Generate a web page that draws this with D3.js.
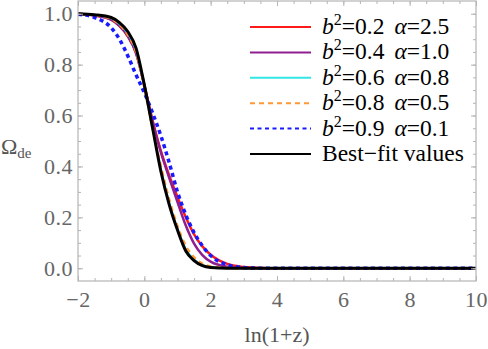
<!DOCTYPE html>
<html>
<head>
    <meta charset="utf-8">
    <title>Omega_de vs ln(1+z)</title>
    <script type="text/javascript" src="https://cdn.jsdelivr.net/npm/d3@7/dist/d3.min.js"></script>
    <style>
        body { margin: 0; background: #fff; }
    </style>
</head>
<body>
<script type="text/javascript">
var lnz = [-2, -1.5, -1, -0.75, -0.5, -0.25, 0, 0.25, 0.5, 0.75, 1, 1.25, 1.5, 1.75, 2, 2.5, 3, 3.5, 4, 6, 8, 10];

var omegaRed    = [1.0, 0.993, 0.977, 0.952, 0.912, 0.845, 0.72, 0.58, 0.46, 0.365, 0.28, 0.2, 0.133, 0.086, 0.053, 0.017, 0.005, 0.001, 0, 0, 0, 0];
var omegaPurple = [1.0, 0.993, 0.977, 0.952, 0.912, 0.845, 0.72, 0.575, 0.455, 0.355, 0.26, 0.168, 0.097, 0.052, 0.026, 0.006, 0.001, 0, 0, 0, 0, 0];
var omegaCyan   = [1.0, 0.995, 0.982, 0.96, 0.922, 0.855, 0.715, 0.55, 0.39, 0.258, 0.155, 0.076, 0.035, 0.013, 0.004, 0.001, 0, 0, 0, 0, 0, 0];
var omegaOrange = [1.0, 0.994, 0.98, 0.957, 0.918, 0.85, 0.71, 0.55, 0.4, 0.27, 0.165, 0.088, 0.043, 0.018, 0.007, 0.001, 0, 0, 0, 0, 0, 0];
var omegaBlue   = [0.998, 0.985, 0.945, 0.9, 0.835, 0.76, 0.69, 0.61, 0.52, 0.415, 0.3, 0.21, 0.14, 0.088, 0.05, 0.014, 0.003, 0.0005, 0, 0, 0, 0];
var omegaBest   = [1.0, 0.996, 0.985, 0.965, 0.93, 0.865, 0.72, 0.55, 0.38, 0.25, 0.15, 0.068, 0.03, 0.01, 0.003, 0, 0, 0, 0, 0, 0, 0];

var b2Values    = ["0.2", "0.4", "0.6", "0.8", "0.9"];
var alphaValues = ["2.5", "1.0", "0.8", "0.5", "0.1"];

var xTicks = [-2, 0, 2, 4, 6, 8, 10];
var yTicks = [0, 0.2, 0.4, 0.6, 0.8, 1.0];

var width = 488, height = 349;
var margins = {top: 1, left: 78, right: 12, bottom: 68};
var serif = "'Liberation Serif', 'Times New Roman', Times, 'DejaVu Serif', serif";

var series = [
    {values: omegaRed,    color: "#ff1a1a", width: 2.5, dash: null},
    {values: omegaPurple, color: "#8f1f8f", width: 2.5, dash: null},
    {values: omegaCyan,   color: "#33e6e6", width: 2,   dash: null},
    {values: omegaOrange, color: "#ff9933", width: 2.5, dash: "5,4"},
    {values: omegaBlue,   color: "#1a1aff", width: 3.5, dash: "4,3.5"},
    {values: omegaBest,   color: "#000000", width: 3,   dash: null}
];

var x = d3.scaleLinear().domain([-2, 10]).range([margins.left, width - margins.right]);
var y = d3.scaleLinear().domain([-0.05, 1.05]).range([height - margins.bottom, margins.top]);

var svg = d3.select("body").append("svg")
        .attr("width", width)
        .attr("height", height);

var frameColor = "#b5b5b5", labelColor = "#666";

function renderAxes() {
    var g = svg.append("g").attr("class", "axes");
    var xMinor = d3.range(-2, 10.01, 0.5);
    var yMinor = d3.range(0, 1.001, 0.05);

    // minor ticks, all four sides
    g.append("g").attr("transform", "translate(0," + y(-0.05) + ")")
            .call(d3.axisBottom(x).tickValues(xMinor).tickSize(-3).tickFormat(""));
    g.append("g").attr("transform", "translate(0," + y(1.05) + ")")
            .call(d3.axisTop(x).tickValues(xMinor).tickSize(-3).tickFormat(""));
    g.append("g").attr("transform", "translate(" + x(-2) + ",0)")
            .call(d3.axisLeft(y).tickValues(yMinor).tickSize(-3).tickFormat(""));
    g.append("g").attr("transform", "translate(" + x(10) + ",0)")
            .call(d3.axisRight(y).tickValues(yMinor).tickSize(-3).tickFormat(""));

    // major ticks
    g.append("g").attr("class", "x axis").attr("transform", "translate(0," + y(-0.05) + ")")
            .call(d3.axisBottom(x).tickValues(xTicks).tickSize(-5).tickPadding(10).tickSizeOuter(0));
    g.append("g").attr("transform", "translate(0," + y(1.05) + ")")
            .call(d3.axisTop(x).tickValues(xTicks).tickSize(-5).tickFormat(""));
    g.append("g").attr("class", "y axis").attr("transform", "translate(" + x(-2) + ",0)")
            .call(d3.axisLeft(y).tickValues(yTicks).tickSize(-5).tickPadding(5).tickFormat(d3.format(".1f")).tickSizeOuter(0));
    g.append("g").attr("transform", "translate(" + x(10) + ",0)")
            .call(d3.axisRight(y).tickValues(yTicks).tickSize(-5).tickFormat(""));

    g.selectAll(".domain").remove();
    g.selectAll(".tick line").attr("stroke", frameColor);
    g.selectAll(".tick text")
            .attr("fill", labelColor)
            .style("font-size", "22px")
            .style("letter-spacing", "0.5px");

    svg.append("rect")
            .attr("x", x(-2))
            .attr("y", y(1.05))
            .attr("width", x(10) - x(-2))
            .attr("height", y(-0.05) - y(1.05))
            .attr("fill", "none")
            .attr("stroke", frameColor)
            .attr("stroke-width", 1.2);

    svg.append("text")
            .attr("x", x(4))
            .attr("y", 342)
            .attr("text-anchor", "middle")
            .attr("fill", "#555")
            .style("font-size", "22px")
            .text("ln(1+z)");

    var yl = svg.append("text")
            .attr("x", 1)
            .attr("y", 154)
            .attr("fill", "#555")
            .style("font-size", "22px");
    yl.append("tspan").text("\u03A9");
    yl.append("tspan").attr("dy", 4).style("font-size", "15px").text("de");
}

function renderLines() {
    var line = d3.line()
            .x(function (d) { return x(d[0]); })
            .y(function (d) { return y(d[1]); })
            .curve(d3.curveMonotoneX);

    svg.append("defs").append("clipPath").attr("id", "body-clip")
            .append("rect")
            .attr("x", x(-2)).attr("y", y(1.05))
            .attr("width", x(10) - x(-2)).attr("height", y(-0.05) - y(1.05));

    svg.append("g").attr("clip-path", "url(#body-clip)")
            .selectAll("path.line")
            .data(series)
            .enter()
            .append("path")
            .attr("class", "line")
            .attr("fill", "none")
            .attr("stroke", function (d) { return d.color; })
            .attr("stroke-width", function (d) { return d.width; })
            .attr("stroke-dasharray", function (d) { return d.dash; })
            .attr("d", function (d) {
                return line(lnz.map(function (v, i) { return [v, d.values[i]]; }));
            });
}

function renderLegend() {
    var lg = svg.append("g").attr("class", "legend");
    var rows = lg.selectAll("g.row")
            .data(series)
            .enter()
            .append("g")
            .attr("class", "row")
            .attr("transform", function (d, i) { return "translate(250," + (27 + i * 25.4) + ")"; });

    rows.append("line")
            .attr("x1", 0).attr("x2", 61)
            .attr("stroke", function (d) { return d.color; })
            .attr("stroke-width", 2)
            .attr("stroke-dasharray", function (d) { return d.dash; });

    rows.each(function (d, i) {
        var t = d3.select(this).append("text")
                .attr("x", 72)
                .attr("y", 7)
                .attr("fill", "#000")
                .style("font-size", "23.5px");
        if (i < b2Values.length) {
            t.append("tspan").style("font-style", "italic").text("b");
            t.append("tspan").attr("dy", -9).style("font-size", "16px").text("2");
            t.append("tspan").attr("dy", 9).text("=" + b2Values[i]);
            t.append("tspan").attr("dx", 10).style("font-style", "italic").text("\u03B1");
            t.append("tspan").text("=" + alphaValues[i]);
        } else {
            t.text("Best\u2212fit values");
        }
    });
}

renderLines();
renderAxes();
renderLegend();

svg.selectAll("text").style("font-family", serif);
</script>
</body>
</html>
